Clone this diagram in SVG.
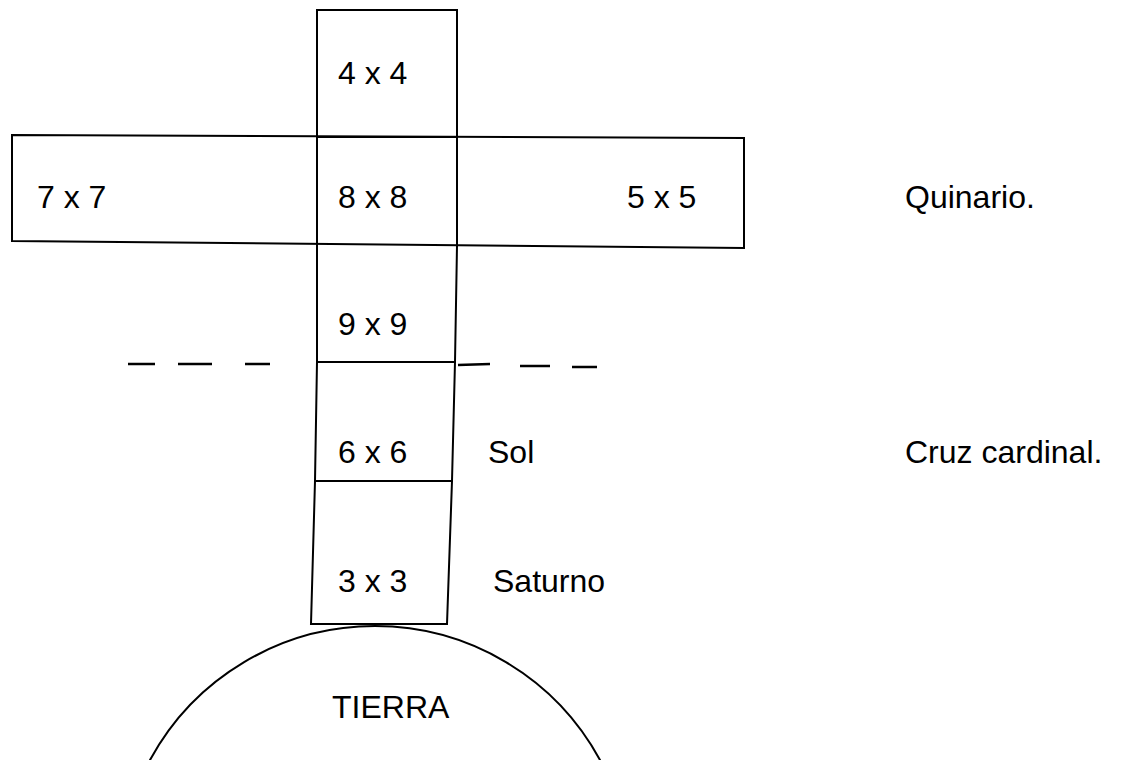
<svg xmlns="http://www.w3.org/2000/svg" width="1147" height="760" viewBox="0 0 1147 760">
<style>
.ln{fill:none;stroke:#000;stroke-width:2;stroke-linecap:square}
.t{font-family:"Liberation Sans",Arial,sans-serif;font-size:32px;fill:#000}
.d{fill:none;stroke:#000;stroke-width:2.5}
</style>
<rect width="1147" height="760" fill="#fff"/>
<g id="box44"><path class="ln" d="M317,10 L457,10 L457,137 L317,137 Z"/><text class="t" x="338" y="84">4 x 4</text></g>
<g id="arm"><path class="ln" d="M12,135 L744,138 L744,248 L12,241 Z"/></g>
<g id="box77"><text class="t" x="37" y="208">7 x 7</text></g>
<g id="box88"><path class="ln" d="M317,137 L317,244 M457,137 L457,246"/><text class="t" x="338" y="208">8 x 8</text></g>
<g id="box55"><text class="t" x="627" y="208">5 x 5</text></g>
<g id="box99"><path class="ln" d="M317,244 L317,362 L455,362 L457,246"/><text class="t" x="338" y="335">9 x 9</text></g>
<g id="box66"><path class="ln" d="M317,362 L315,481 L452,481 L455,362"/><text class="t" x="338" y="463">6 x 6</text></g>
<g id="box33"><path class="ln" d="M315,481 L311,624 L447,624 L452,481"/><text class="t" x="338" y="592">3 x 3</text></g>
<g id="tierra"><path class="ln" d="M150,760 A256,256 0 0 1 600,760"/><text class="t" x="332" y="718">TIERRA</text></g>
<g id="labels">
<text class="t" x="488" y="463">Sol</text>
<text class="t" x="493" y="592">Saturno</text>
<text class="t" x="905" y="208">Quinario.</text>
<text class="t" x="905" y="463">Cruz cardinal.</text>
</g>
<g id="connectors">
<path class="d" d="M128,364 L155,364 M178,364 L212,364 M245,364 L270,364 M458,365 L490,364 M520,366 L550,366 M572,367 L597,367"/>
</g>
</svg>
